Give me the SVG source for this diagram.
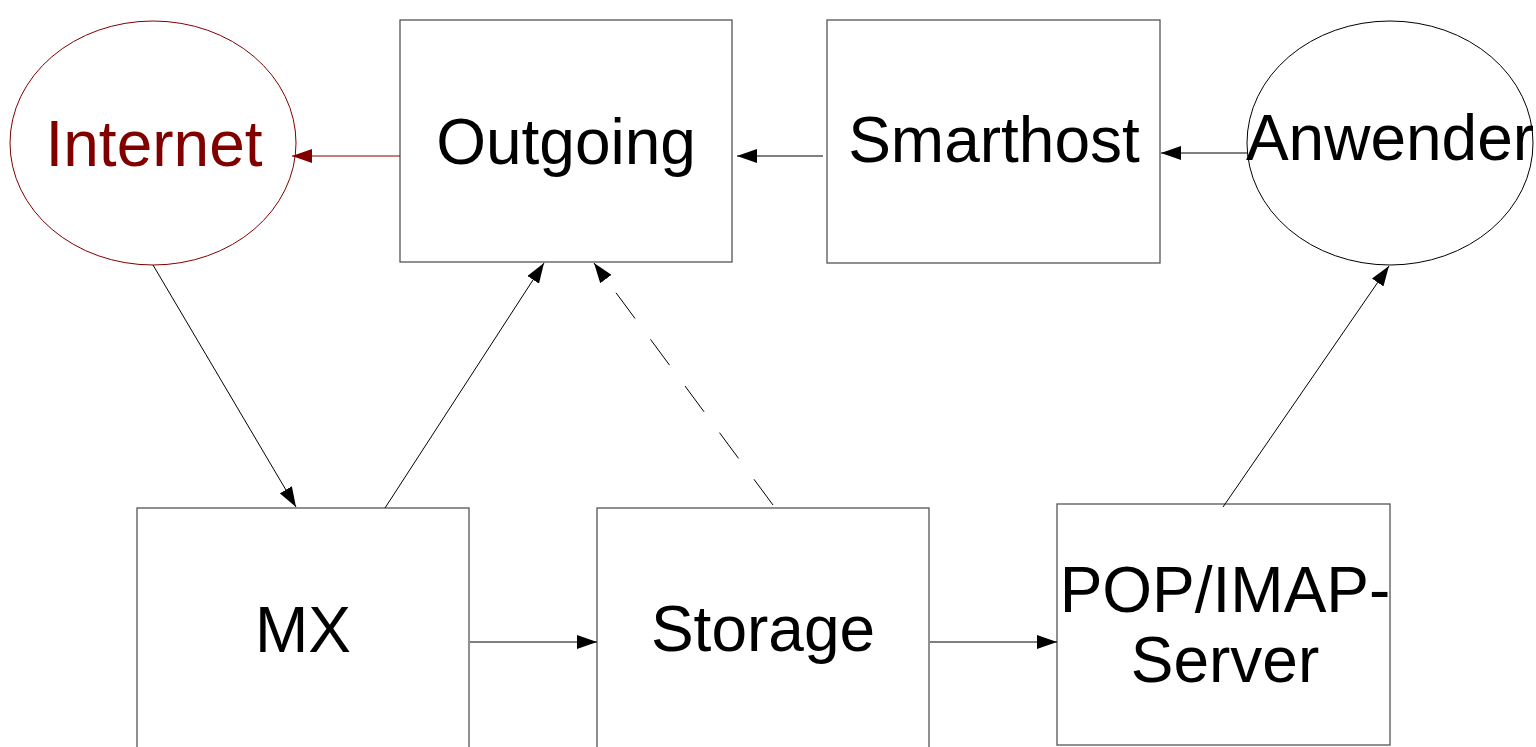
<svg xmlns="http://www.w3.org/2000/svg" width="1536" height="747" viewBox="0 0 1536 747">
<style>
.box{fill:#fff;stroke:#555;stroke-width:1.3}
.ell{fill:#fff;stroke:#000;stroke-width:1}
.lbl{font-family:"Liberation Sans",Arial,sans-serif;font-size:64px;fill:#000;text-anchor:middle}
.ln{stroke:#000;stroke-width:1;fill:none}
</style>
<defs>
<marker id="ah" viewBox="0 0 20 14" refX="20" refY="7" markerWidth="20" markerHeight="14" markerUnits="userSpaceOnUse" orient="auto"><path d="M0,0 L20,7 L0,14 z" fill="#000"/></marker>
<marker id="ahr" viewBox="0 0 20 14" refX="20" refY="7" markerWidth="20" markerHeight="14" markerUnits="userSpaceOnUse" orient="auto"><path d="M0,0 L20,7 L0,14 z" fill="#800000"/></marker>
</defs>
<rect width="1536" height="747" fill="#fff"/>
<g id="internet"><ellipse cx="153" cy="143" rx="143" ry="122" fill="#fff" stroke="#800000" stroke-width="1"/><text class="lbl" x="154" y="166" style="fill:#800000">Internet</text></g>
<g id="outgoing"><rect class="box" x="400" y="20" width="332" height="242"/><text class="lbl" x="566" y="164">Outgoing</text></g>
<g id="smarthost"><rect class="box" x="827" y="20" width="333" height="243"/><text class="lbl" x="994" y="162">Smarthost</text></g>
<g id="anwender"><ellipse class="ell" cx="1390" cy="143" rx="143" ry="122"/><text class="lbl" x="1390" y="160">Anwender</text></g>
<g id="mx"><rect class="box" x="137" y="508" width="332" height="260"/><text class="lbl" x="303" y="652">MX</text></g>
<g id="storage"><rect class="box" x="597" y="508" width="332" height="260"/><text class="lbl" x="763" y="651">Storage</text></g>
<g id="popimap"><rect class="box" x="1057" y="504" width="333" height="241"/><text class="lbl" x="1225" y="612">POP/IMAP-</text><text class="lbl" x="1225" y="682">Server</text></g>
<g id="connectors">
<line x1="400" y1="156" x2="292" y2="156" stroke="#800000" stroke-width="1" marker-end="url(#ahr)"/>
<line class="ln" x1="823" y1="156" x2="737" y2="156" marker-end="url(#ah)"/>
<line class="ln" x1="1247" y1="153" x2="1161" y2="153" marker-end="url(#ah)"/>
<line class="ln" x1="153" y1="265" x2="296" y2="507" marker-end="url(#ah)"/>
<line class="ln" x1="385" y1="508" x2="544" y2="263" marker-end="url(#ah)"/>
<line class="ln" x1="773" y1="505" x2="594" y2="263" stroke-dasharray="32,26" marker-end="url(#ah)"/>
<line class="ln" x1="1223" y1="507" x2="1389" y2="266" marker-end="url(#ah)"/>
<line class="ln" x1="470" y1="642" x2="597" y2="642" marker-end="url(#ah)"/>
<line class="ln" x1="930" y1="642" x2="1057" y2="642" marker-end="url(#ah)"/>
</g>
</svg>
